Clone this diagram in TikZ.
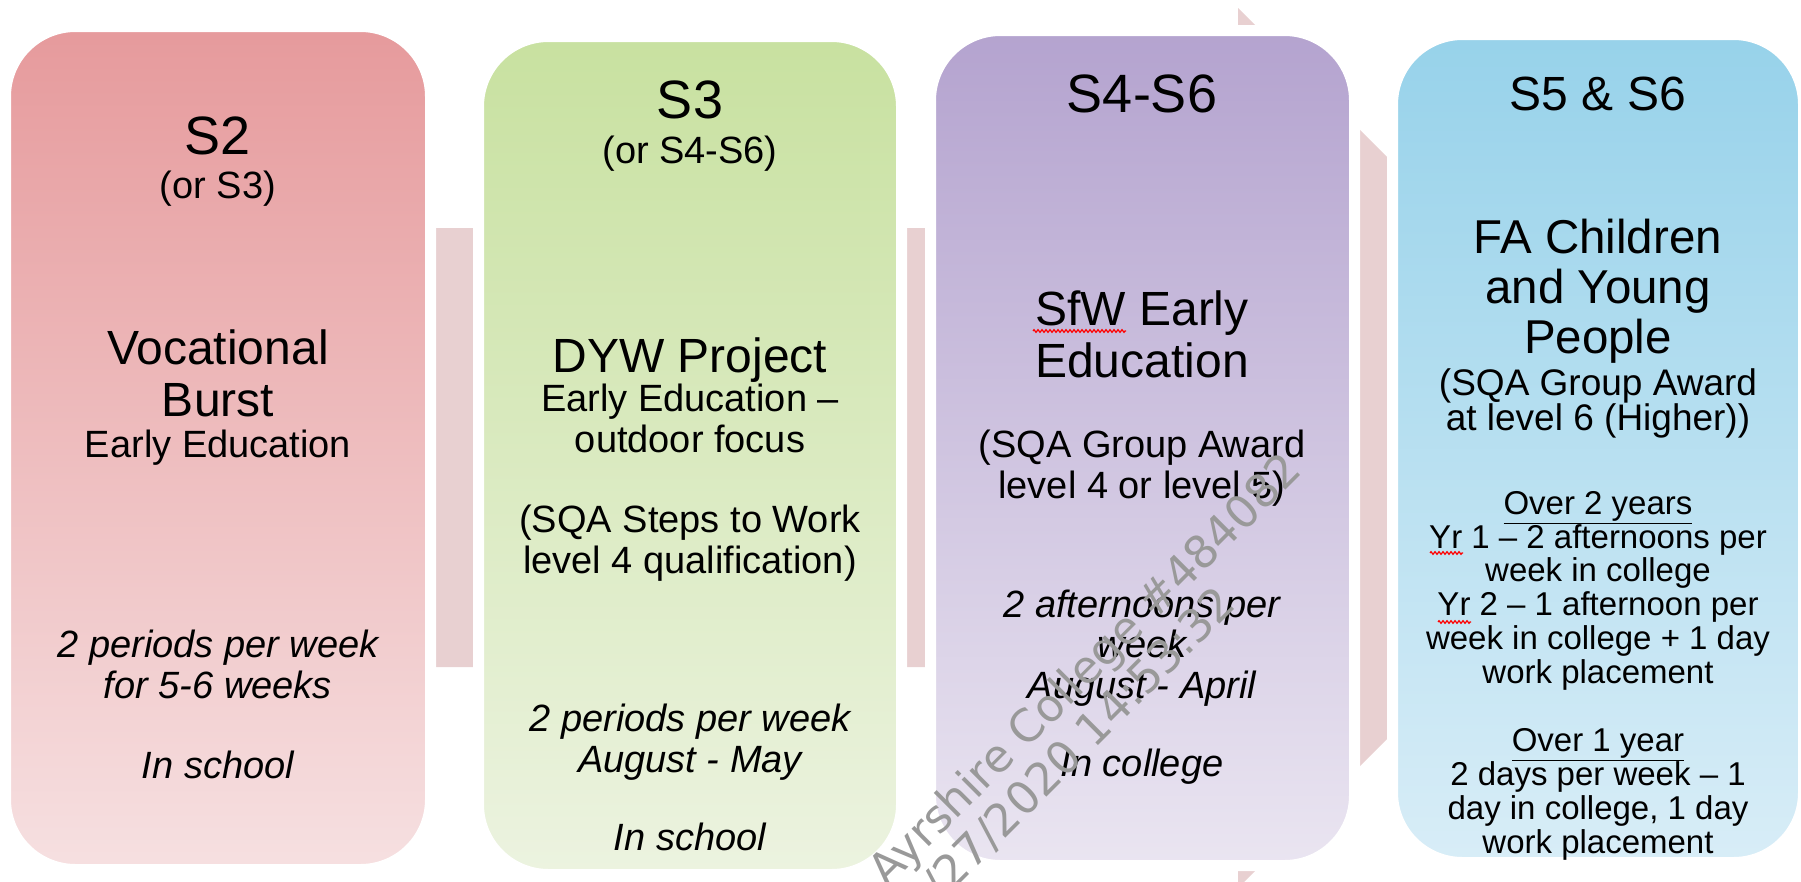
\documentclass[tikz,border=0pt]{standalone}
\usepackage{fontspec}
\setmainfont{Liberation Sans}
\newfontfamily\stampfont{DejaVu Sans}
\usetikzlibrary{decorations.pathmorphing}

\definecolor{arrowpink}{HTML}{E8D0D1}
\definecolor{redtop}{HTML}{E69A9C}
\definecolor{redbot}{HTML}{F6E0E1}
\definecolor{greentop}{HTML}{C8E1A0}
\definecolor{greenbot}{HTML}{ECF3E0}
\definecolor{purptop}{HTML}{B4A3CF}
\definecolor{purpbot}{HTML}{EAE5F1}
\definecolor{bluetop}{HTML}{97D2EA}
\definecolor{bluebot}{HTML}{D8EDF7}

\newcommand\yearfont{\fontsize{54}{58}\selectfont}
\newcommand\coursefont{\fontsize{48}{52}\selectfont}
\newcommand\notefont{\fontsize{38}{40.5}\selectfont\lineskiplimit=-100pt}
\newcommand\bluecourse{\fontsize{47.5}{50}\selectfont\lineskiplimit=-100pt}
\newcommand\bluenote{\fontsize{37}{35}\selectfont\lineskiplimit=-100pt}
\newcommand\bluebody{\fontsize{33}{33.7}\selectfont\lineskiplimit=-100pt}

\begin{document}
\begin{tikzpicture}[x=1pt, y=-1pt,
    stage/.style={rectangle, rounded corners=70pt, draw=white, line width=11pt, inner sep=0},
    txt/.style={anchor=base, inner sep=0, align=center},
    spell/.style={draw=red, line width=1.2pt, decorate,
      decoration={zigzag, amplitude=1.3pt, segment length=4pt}}]
  \useasboundingbox (0,0) rectangle (1801,881);

  \fill[arrowpink] (100,228) -- (1238,228) -- (1238,8) -- (1678,448)
    -- (1238,888) -- (1238,667) -- (100,667) -- cycle;

  \node[stage, top color=redtop, bottom color=redbot,
    minimum width=425pt, minimum height=843pt] (s2box) at (218,448) {};
  \node[stage, top color=greentop, bottom color=greenbot,
    minimum width=423pt, minimum height=838pt] (s3box) at (690,455.5) {};
  \node[stage, top color=purptop, bottom color=purpbot,
    minimum width=424pt, minimum height=835pt] (s46box) at (1142.5,448) {};
  \node[stage, top color=bluetop, bottom color=bluebot,
    minimum width=411pt, minimum height=828pt] (s56box) at (1598,448.5) {};

  % multi-line nodes sit on the baseline of their last line
  \node[txt, font=\yearfont] (s2year) at (218,154) {S2};
  \node[txt, font=\notefont] (s2alt) at (218,198) {(or S3)};
  \node[txt, font=\coursefont] (s2course) at (218,416) {Vocational\\Burst};
  \node[txt, font=\notefont] (s2sub) at (218,457) {Early Education};
  \node[txt, font=\notefont\itshape] (s2time) at (218,698) {2 periods per week\\for 5-6 weeks};
  \node[txt, font=\notefont\itshape] (s2place) at (218,778) {In school};

  \node[txt, font=\yearfont] (s3year) at (690,118) {S3};
  \node[txt, font=\notefont] (s3alt) at (690,163) {(or S4-S6)};
  \node[txt, font=\coursefont] (s3course) at (690,372) {DYW Project};
  \node[txt, font=\notefont] (s3sub) at (690,452) {Early Education –\\outdoor focus};
  \node[txt, font=\notefont] (s3qual) at (690,573) {(SQA Steps to Work\\level 4 qualification)};
  \node[txt, font=\notefont\itshape] (s3time) at (690,772) {2 periods per week\\August - May};
  \node[txt, font=\notefont\itshape] (s3place) at (690,850) {In school};

  \node[txt, font=\yearfont] (s46year) at (1142,112) {S4-S6};
  \node[txt, font=\coursefont] (s46course) at (1142,377) {SfW Early\\Education};
  \node[txt, font=\notefont] (s46qual) at (1142,498) {(SQA Group Award\\level 4 or level 5)};
  \node[txt, font=\notefont\itshape] (s46time) at (1142,698) {2 afternoons per\\week\\August - April};
  \node[txt, font=\notefont\itshape] (s46place) at (1142,776) {In college};

  \node[txt, font=\coursefont] (s56year) at (1598,110) {S5 \& S6};
  \node[txt, font=\bluecourse] (s56course) at (1598,353) {FA Children\\and Young\\People};
  \node[txt, font=\bluenote] (s56qual) at (1598,430) {(SQA Group Award\\at level 6 (Higher))};
  \node[txt, font=\bluebody] (s56long) at (1598,683) {\underline{Over 2 years}\\Yr 1 – 2 afternoons per\\week in college\\Yr 2 – 1 afternoon per\\week in college + 1 day\\work placement};
  \node[txt, font=\bluebody] (s56short) at (1598,853) {\underline{Over 1 year}\\2 days per week – 1\\day in college, 1 day\\work placement};

  \draw[spell] (1033,331) -- (1126,331);
  \draw[spell] (1430,553) -- (1463,553);
  \draw[spell] (1438,622) -- (1471,622);

  \node[anchor=base west, inner sep=0, align=left, rotate=45, text=black!40,
    font=\stampfont\fontsize{45}{48}\selectfont]
    (stamp) at (921.5,922.5) {Ayrshire College \#484082\\5/27/2020 14:53:32};
\end{tikzpicture}
\end{document}
